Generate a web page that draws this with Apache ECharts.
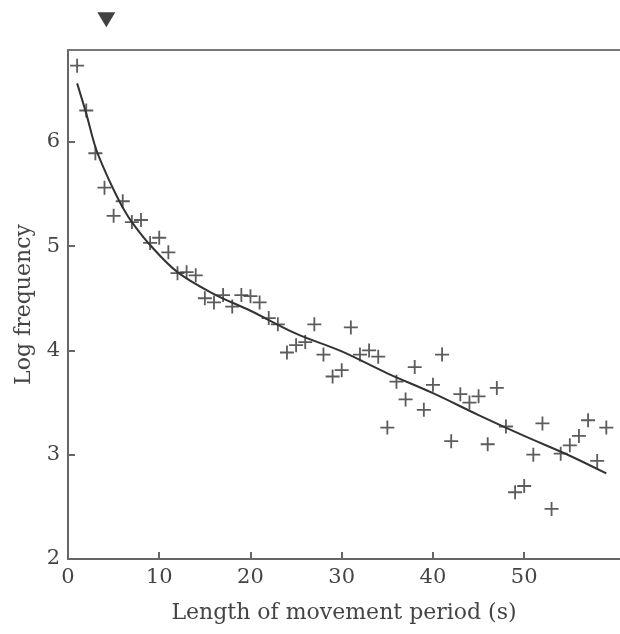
<!DOCTYPE html>
<html lang="en">
<head>
    <meta charset="UTF-8">
    <title>Log frequency vs length of movement period</title>
    <style>
        html, body { margin: 0; padding: 0; background: #fff; }
        #main { width: 620px; height: 634px; }
    </style>
    <script src="https://cdn.jsdelivr.net/npm/echarts@6/dist/echarts.min.js"></script>
</head>
<body>
<div id="main"></div>
<script>
    // observed points: period length (s) and log frequency
    var periods = [1, 2, 3, 4, 5, 6, 7, 8, 9, 10, 11, 12, 13, 14, 15, 16, 17, 18, 19, 20,
        21, 22, 23, 24, 25, 26, 27, 28, 29, 30, 31, 32, 33, 34, 35, 36, 37, 38, 39, 40,
        41, 42, 43, 44, 45, 46, 47, 48, 49, 50, 51, 52, 53, 54, 55, 56, 57, 58, 59];
    var logFreq = [6.73, 6.30, 5.89, 5.56, 5.29, 5.43, 5.23, 5.25, 5.03, 5.08,
        4.94, 4.74, 4.75, 4.72, 4.50, 4.46, 4.53, 4.42, 4.53, 4.52,
        4.46, 4.31, 4.25, 3.98, 4.05, 4.08, 4.25, 3.96, 3.75, 3.81,
        4.22, 3.96, 4.00, 3.94, 3.26, 3.70, 3.53, 3.84, 3.43, 3.67,
        3.96, 3.13, 3.58, 3.50, 3.56, 3.10, 3.64, 3.27, 2.64, 2.70,
        3.00, 3.30, 2.48, 3.01, 3.09, 3.18, 3.33, 2.94, 3.26];

    // fitted curve
    var fitX = [1, 2, 3, 4, 5, 6, 7, 9, 12, 16, 20, 25, 30, 35, 40, 45, 50, 55, 59];
    var fitY = [6.56, 6.27, 5.95, 5.73, 5.54, 5.37, 5.23, 5.01, 4.75, 4.54, 4.38, 4.16, 3.99, 3.78, 3.59, 3.38, 3.18, 2.99, 2.82];

    // marker above the plot
    var markerX = [4.2];
    var markerY = [7.17];

    var xTicks = [0, 10, 20, 30, 40, 50];
    var yTicks = [2, 3, 4, 5, 6];

    var font = 'DejaVu Serif';
    var plus = 'path://M4.35,0H5.65V4.35H10V5.65H5.65V10H4.35V5.65H0V4.35H4.35Z';

    var chart = echarts.init(document.getElementById('main'));
    var option = {
        animation: false,
        backgroundColor: '#fff',
        grid: { left: 68, top: 50, right: 0, bottom: 75 },
        xAxis: [{
            type: 'value',
            min: 0,
            max: 60.5,
            interval: 10,
            name: 'Length of movement period (s)',
            nameLocation: 'middle',
            nameGap: 43,
            nameTextStyle: { fontFamily: font, fontSize: 22, color: '#444' },
            axisLine: { lineStyle: { color: '#666', width: 2 } },
            axisTick: { inside: true, length: 7, customValues: xTicks, lineStyle: { color: '#666', width: 2 } },
            axisLabel: { customValues: xTicks, fontFamily: font, fontSize: 21, color: '#444', margin: 8 },
            splitLine: { show: false }
        }, {
            type: 'value',
            position: 'top',
            min: 0,
            max: 60.5,
            axisLine: { show: true, lineStyle: { color: '#777', width: 2 } },
            axisTick: { show: false },
            axisLabel: { show: false },
            splitLine: { show: false }
        }],
        yAxis: {
            type: 'value',
            min: 2,
            max: 6.88,
            interval: 1,
            name: 'Log frequency',
            nameLocation: 'middle',
            nameGap: 33,
            nameTextStyle: { fontFamily: font, fontSize: 22, color: '#444' },
            axisLine: { show: true, lineStyle: { color: '#666', width: 2 } },
            axisTick: { show: true, inside: true, length: 7, customValues: yTicks, lineStyle: { color: '#666', width: 2 } },
            axisLabel: { customValues: yTicks, fontFamily: font, fontSize: 21, color: '#444', margin: 8 },
            splitLine: { show: false }
        },
        series: [{
            type: 'scatter',
            data: periods.map(function (p, i) { return [p, logFreq[i]]; }),
            symbol: plus,
            symbolSize: 14,
            itemStyle: { color: '#333' }
        }, {
            type: 'line',
            data: fitX.map(function (p, i) { return [p, fitY[i]]; }),
            smooth: 0.35,
            showSymbol: false,
            lineStyle: { color: '#333', width: 2 }
        }, {
            type: 'scatter',
            data: markerX.map(function (p, i) { return [p, markerY[i]]; }),
            clip: false,
            symbol: 'triangle',
            symbolRotate: 180,
            symbolSize: [18, 15],
            itemStyle: { color: '#111' }
        }]
    };
    chart.setOption(option);
</script>
</body>
</html>
